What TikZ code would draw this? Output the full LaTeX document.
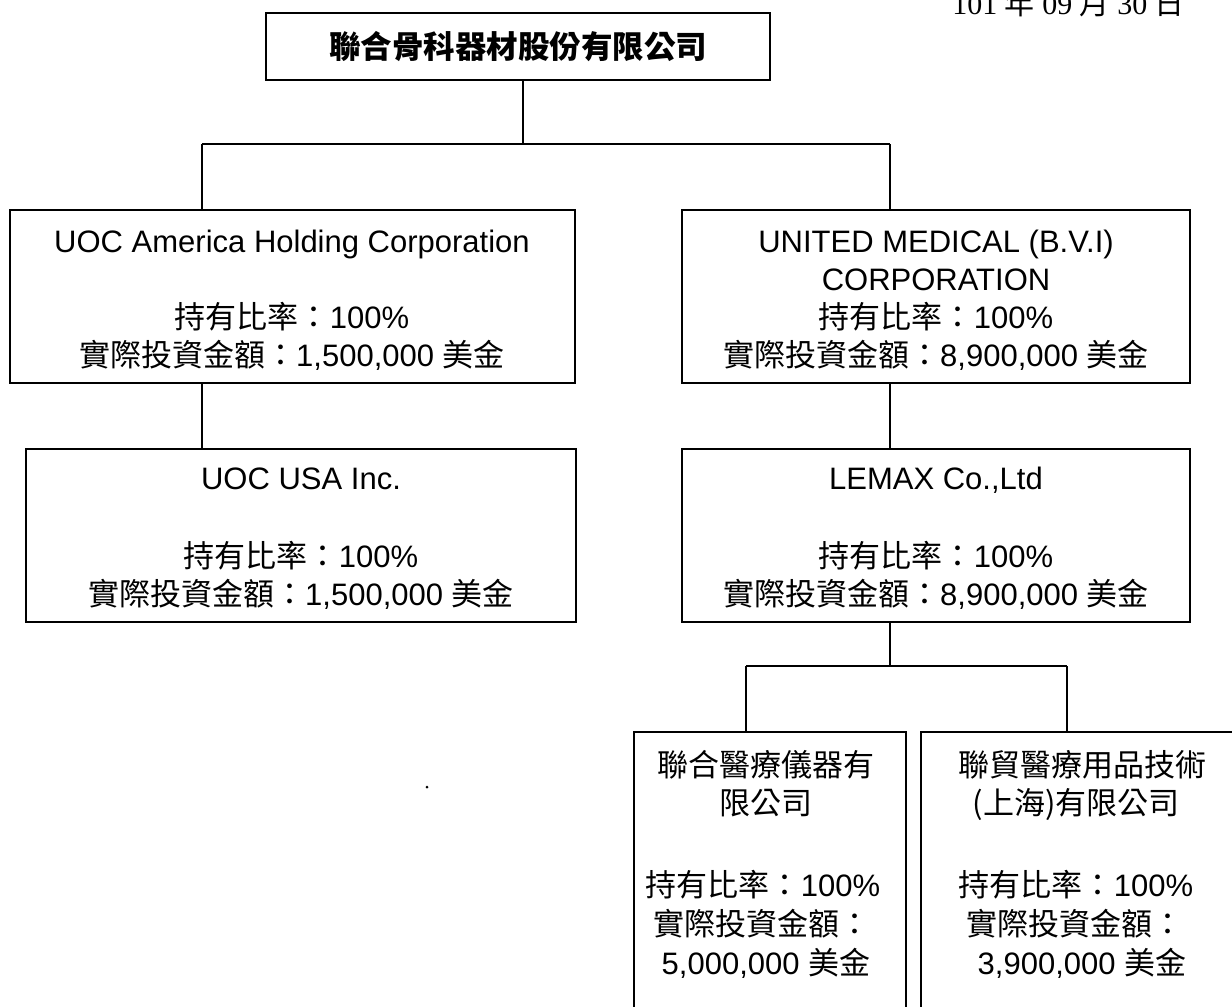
\documentclass[tikz,border=0pt]{standalone}
\usepackage{fontspec}
\setmainfont{Liberation Sans}
\newfontfamily\cjk{Noto Sans CJK TC}
\newfontfamily\tnr{Liberation Serif}
\newcommand\zh[1]{{\cjk #1}}
\begin{document}
\begin{tikzpicture}[x=1pt,y=-1pt,
  box/.style={draw, line width=1.6pt, rectangle, inner sep=0pt},
  conn/.style={line width=1.6pt},
  mid/.style={font=\fontsize{31}{36}\selectfont, anchor=base, inner sep=0pt},
  low/.style={font=\fontsize{31}{36}\selectfont, anchor=base, inner sep=0pt}]
\useasboundingbox (0,0) rectangle (1232,1007);
% date
\node[anchor=base east, inner sep=0pt, font=\fontsize{30}{34}\selectfont\tnr] (date) at (1185,14) {101 \zh{年} 09 \zh{月} 30 \zh{日}};
% boxes
\node[box, minimum width=504pt, minimum height=67pt, font=\fontsize{31.5}{36}\selectfont\cjk\bfseries] (t) at (518,46.5) {聯合骨科器材股份有限公司};
\node[box, minimum width=565pt, minimum height=173pt] (b1) at (292.5,296.5) {};
\node[box, minimum width=508pt, minimum height=173pt] (b2) at (936,296.5) {};
\node[box, minimum width=550pt, minimum height=173pt] (b3) at (301,535.5) {};
\node[box, minimum width=508pt, minimum height=173pt] (b4) at (936,535.5) {};
\node[box, minimum width=272pt, minimum height=298pt] (b5) at (770,881) {};
\node[box, minimum width=329pt, minimum height=298pt] (b6) at (1085.5,881) {};
% texts box1
\node[mid] (b1a) at (292,252) {UOC America Holding Corporation};
\node[mid] (b1b) at (292,328) {\zh{持有比率：}100\%};
\node[mid] (b1c) at (292,366) {\zh{實際投資金額：}1,500,000 \zh{美金}};
% texts box2
\node[mid] (b2a) at (936,252) {UNITED MEDICAL (B.V.I)};
\node[mid] (b2b) at (936,290) {CORPORATION};
\node[mid] (b2c) at (936,328) {\zh{持有比率：}100\%};
\node[mid] (b2d) at (936,366) {\zh{實際投資金額：}8,900,000 \zh{美金}};
% texts box3
\node[mid] (b3a) at (301,489) {UOC USA Inc.};
\node[mid] (b3b) at (301,567) {\zh{持有比率：}100\%};
\node[mid] (b3c) at (301,605) {\zh{實際投資金額：}1,500,000 \zh{美金}};
% texts box4
\node[mid] (b4a) at (936,489) {LEMAX Co.,Ltd};
\node[mid] (b4b) at (936,567) {\zh{持有比率：}100\%};
\node[mid] (b4c) at (936,605) {\zh{實際投資金額：}8,900,000 \zh{美金}};
% texts box5
\node[low] (b5a) at (766,776) {\zh{聯合醫療儀器有}};
\node[low] (b5b) at (766,814) {\zh{限公司}};
\node[low] (b5c) at (763,896) {\zh{持有比率：}100\%};
\node[low] (b5d) at (762,935) {\zh{實際投資金額：}};
\node[low] (b5e) at (766,974) {5,000,000 \zh{美金}};
% texts box6
\node[low] (b6a) at (1082,776) {\zh{聯貿醫療用品技術}};
\node[low] (b6b) at (1076,814) {\zh{(上海)有限公司}};
\node[low] (b6c) at (1076,896) {\zh{持有比率：}100\%};
\node[low] (b6d) at (1075,935) {\zh{實際投資金額：}};
\node[low] (b6e) at (1082,974) {3,900,000 \zh{美金}};
% stray dot
\node[circle, fill, inner sep=0pt, minimum size=3pt] (dot) at (427,787) {};
% connectors
\coordinate (j0) at (523,144);
\coordinate (jl) at (202,144);
\coordinate (jr) at (890,144);
\coordinate (k0) at (890,666);
\coordinate (kl) at (746,666);
\coordinate (kr) at (1067,666);
\draw[conn] (t.south -| j0) -- (j0);
\draw[conn] (jl) -- (jr);
\draw[conn] (jl) -- (jl |- b1.north);
\draw[conn] (jr) -- (jr |- b2.north);
\draw[conn] (jl |- b1.south) -- (jl |- b3.north);
\draw[conn] (jr |- b2.south) -- (jr |- b4.north);
\draw[conn] (k0 |- b4.south) -- (k0);
\draw[conn] (kl) -- (kr);
\draw[conn] (kl) -- (kl |- b5.north);
\draw[conn] (kr) -- (kr |- b6.north);
\end{tikzpicture}
\end{document}
